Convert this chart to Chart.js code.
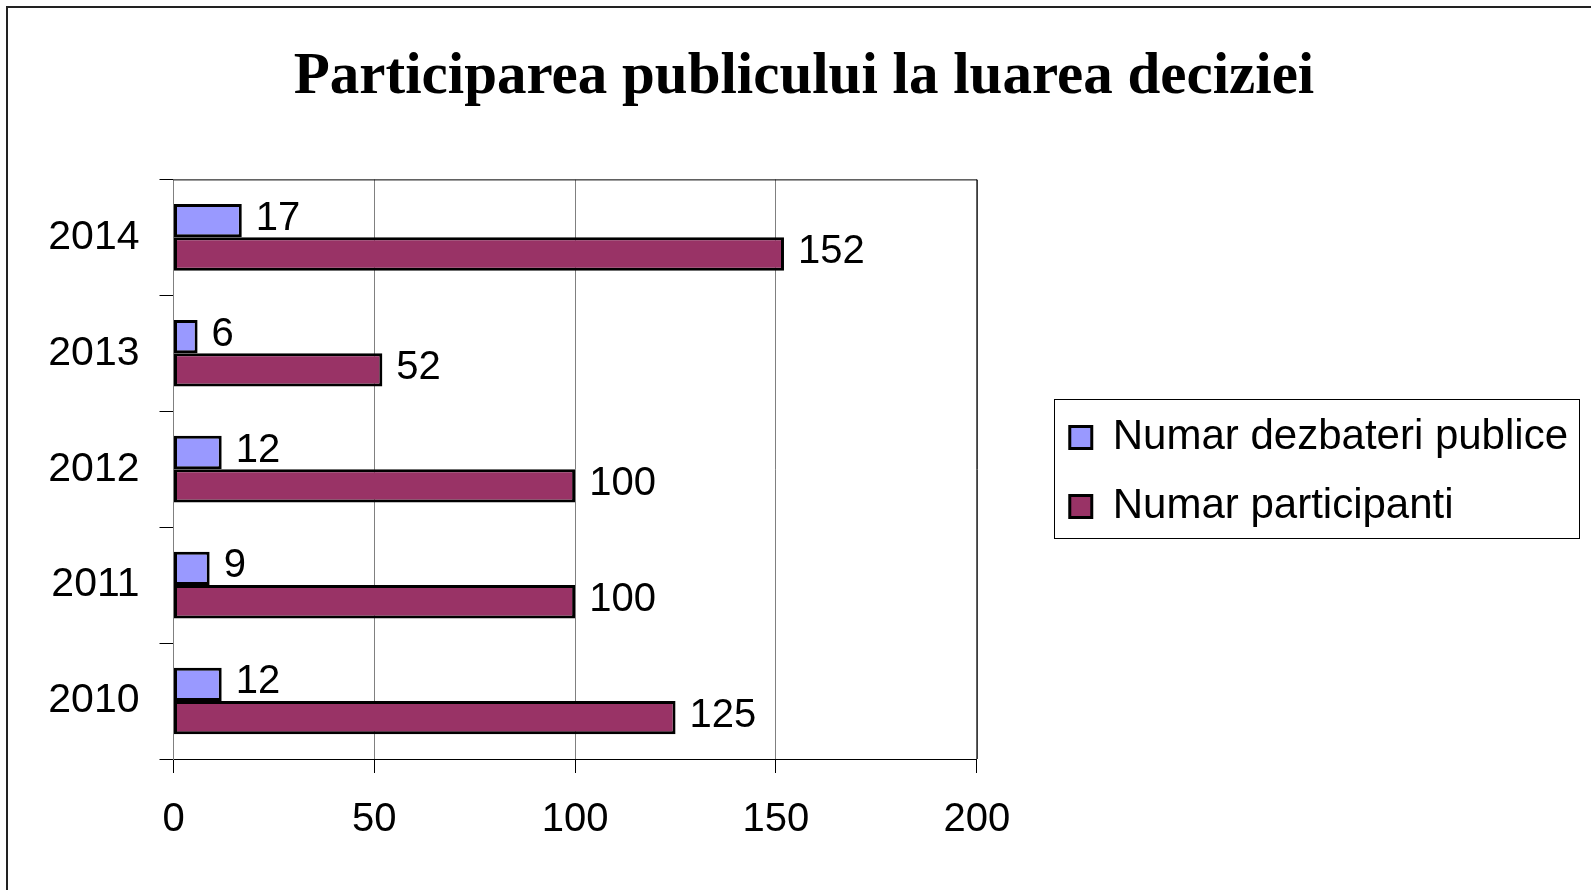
<!DOCTYPE html>
<html>
<head>
<meta charset="utf-8">
<script src="https://cdn.jsdelivr.net/npm/chart.js@4/dist/chart.umd.min.js"></script>
<style>
  body { margin: 0; background: #fff; }
  canvas { display: block; }
</style>
</head>
<body>
<canvas id="chart" width="1591" height="890"></canvas>
<script>
    // values
    const years = ['2010', '2011', '2012', '2013', '2014'];
    const dezbateri = [12, 9, 12, 6, 17];
    const participanti = [125, 100, 100, 52, 152];
    const xTicks = [0, 50, 100, 150, 200];

    const chartTitle = 'Participarea publicului la luarea deciziei';
    const seriesNames = ['Numar dezbateri publice', 'Numar participanti'];

    const sansFont = "'Liberation Sans', Arial, sans-serif";

    // frame round the whole chart, plot border, legend box
    const framePlugin = {
        id: 'frame',
        beforeDraw(chart) {
            const ctx = chart.ctx;
            ctx.save();
            ctx.strokeStyle = '#222';
            ctx.lineWidth = 2;
            ctx.beginPath();
            ctx.moveTo(7, 900);
            ctx.lineTo(7, 7);
            ctx.lineTo(1600, 7);
            ctx.stroke();
            ctx.restore();
        },
        afterDraw(chart) {
            const ctx = chart.ctx;
            const a = chart.chartArea;
            ctx.save();
            ctx.strokeStyle = '#000';
            ctx.lineWidth = 1;
            ctx.beginPath();
            ctx.moveTo(a.left, a.top + 0.5);
            ctx.lineTo(a.right + 0.5, a.top + 0.5);
            ctx.lineTo(a.right + 0.5, a.bottom);
            ctx.stroke();

            const hb = chart.legend.legendHitBoxes;
            if (hb && hb.length) {
                const first = hb[0];
                const last = hb[hb.length - 1];
                let w = 0;
                hb.forEach(h => { w = Math.max(w, h.width); });
                const x0 = Math.round(first.left - 16) + 0.5;
                const y0 = Math.round(first.top - 18) + 0.5;
                const x1 = Math.round(first.left + w + 11) + 0.5;
                const y1 = Math.round(last.top + last.height + 10) + 0.5;
                ctx.strokeRect(x0, y0, x1 - x0, y1 - y0);
            }
            ctx.restore();
        }
    };

    // value labels to the right of each bar
    const valueLabels = {
        id: 'valueLabels',
        afterDatasetsDraw(chart) {
            const ctx = chart.ctx;
            ctx.save();
            ctx.font = '40px ' + sansFont;
            ctx.fillStyle = '#000';
            ctx.textAlign = 'left';
            ctx.textBaseline = 'middle';
            chart.data.datasets.forEach((ds, i) => {
                chart.getDatasetMeta(i).data.forEach((bar, j) => {
                    ctx.fillText(String(ds.data[j]), bar.x + 14, bar.y - 2);
                });
            });
            ctx.restore();
        }
    };

    document.addEventListener('DOMContentLoaded', function () {
        const ctx = document.getElementById('chart').getContext('2d');

        new Chart(ctx, {
            type: 'bar',
            data: {
                labels: years,
                datasets: [{
                    label: seriesNames[0],
                    data: dezbateri,
                    backgroundColor: '#9999ff',
                    borderColor: '#000',
                    borderWidth: 3,
                    borderSkipped: false
                }, {
                    label: seriesNames[1],
                    data: participanti,
                    backgroundColor: '#993366',
                    borderColor: '#000',
                    borderWidth: 3,
                    borderSkipped: false
                }]
            },
            options: {
                indexAxis: 'y',
                responsive: false,
                animation: false,
                devicePixelRatio: 1,
                categoryPercentage: 0.575,
                barPercentage: 1,
                layout: { padding: { left: 30, right: 13, top: 0, bottom: 0 } },
                scales: {
                    x: {
                        min: 0,
                        max: 200,
                        afterBuildTicks: s => { s.ticks = xTicks.map(v => ({ value: v })); },
                        afterFit: s => { s.height = 131; },
                        grid: { color: '#808080', tickColor: '#000', tickLength: 14, lineWidth: 1 },
                        border: { color: '#000', width: 1 },
                        ticks: { color: '#000', padding: 23, maxRotation: 0, font: { family: sansFont, size: 40 } }
                    },
                    y: {
                        reverse: true,
                        afterFit: s => { s.width = 143.5; },
                        grid: { drawOnChartArea: false, color: '#000', tickLength: 14, offset: true },
                        border: { color: '#808080', width: 1 },
                        ticks: { color: '#000', padding: 20, font: { family: sansFont, size: 41 } }
                    },
                    gap: {
                        type: 'linear',
                        axis: 'y',
                        position: 'right',
                        grid: { display: false },
                        border: { display: false },
                        ticks: { display: false },
                        afterFit: s => { s.width = 66; }
                    }
                },
                plugins: {
                    title: {
                        display: true,
                        text: chartTitle,
                        color: '#000',
                        font: { family: "'Liberation Serif', 'Times New Roman', serif", size: 59, weight: 'bold' },
                        padding: { top: 42, bottom: 66.6 }
                    },
                    legend: {
                        display: true,
                        position: 'right',
                        maxWidth: 800,
                        // empty title only pushes the items down a little
                        title: { display: true, text: ' ', font: { size: 10 }, padding: { top: 42, bottom: 0 } },
                        labels: {
                            color: '#000',
                            boxWidth: 22,
                            boxHeight: 22,
                            padding: 27,
                            font: { family: sansFont, size: 42 }
                        }
                    },
                    tooltip: { enabled: false }
                }
            },
            plugins: [framePlugin, valueLabels]
        });
    });
</script>
</body>
</html>
